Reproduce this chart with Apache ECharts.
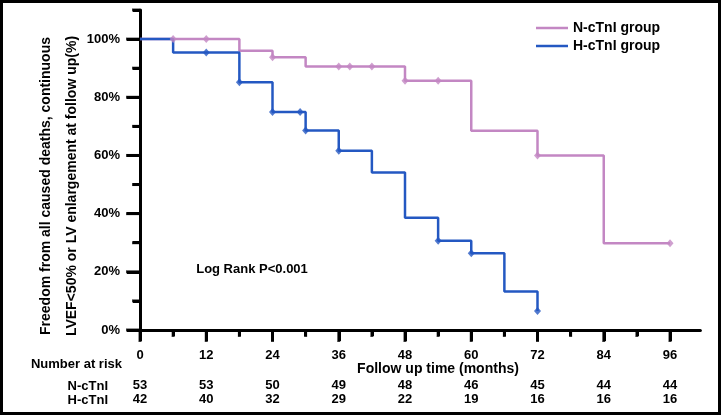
<!DOCTYPE html>
<html>
<head>
<meta charset="utf-8">
<script src="https://cdn.jsdelivr.net/npm/echarts@6/dist/echarts.min.js"></script>
<style>
  html, body { margin: 0; padding: 0; background: #fff; }
  #main { width: 723px; height: 417px; }
</style>
</head>
<body>
<div id="main"></div>
<script>
// survival steps (month, %)
var nSteps = [[0, 100], [18, 96], [24, 93.8], [30, 90.6], [48, 85.7], [60, 68.5], [72, 60.0], [84, 29.8], [96, 29.8]];
var hSteps = [[0, 100], [6, 95.4], [18, 85.2], [24, 74.9], [30, 68.6], [36, 61.6], [42, 54.1], [48, 38.6], [54, 30.7], [60, 26.4], [66, 13.2], [72, 6.5]];
// censor marks
var nCensor = [[6, 100], [12, 100], [24, 93.8], [36, 90.6], [38, 90.6], [42, 90.6], [48, 85.7], [54, 85.7], [72, 60.0], [96, 29.8]];
var hCensor = [[12, 95.4], [18, 85.2], [24, 74.9], [29, 74.9], [30, 68.6], [36, 61.6], [54, 30.7], [60, 26.4], [72, 6.5]];
// x tick labels (months)
var xLabels = [0, 12, 24, 36, 48, 60, 72, 84, 96];
// tick positions
var xMajor = [0, 12, 24, 36, 48, 60, 72, 84, 96];
var xMinor = [6, 18, 30, 42, 54, 66, 78, 90];
var yMajor = [0, 20, 40, 60, 80, 100];
var yMinor = [10, 30, 50, 70, 90, 110];
// number at risk
var nRisk = [53, 53, 50, 49, 48, 46, 45, 44, 44];
var hRisk = [42, 40, 32, 29, 22, 19, 16, 16, 16];

var pink = '#c387c3';
var blue = '#2458c2';
var font = 'Liberation Sans, Arial, sans-serif';

var myChart = echarts.init(document.getElementById('main'));

var pxm = 530 / 96;     // px per month
var pxp = 320 / 110;    // px per percent
var tickLine = { show: true, showMinLine: true, showMaxLine: true, lineStyle: { color: '#000', width: 3 } };
var lbl = { color: '#000', fontFamily: font, fontWeight: 'bold', fontSize: 13 };

function hidden(min, max) {
    return { type: 'value', show: false, min: min, max: max, splitLine: { show: false } };
}
function xTicks(grid, interval, label, margin, fmt) {
    return {
        type: 'value', gridIndex: grid, position: 'bottom', min: 0, max: 96, interval: interval,
        axisLine: { show: false }, axisTick: { show: false },
        axisLabel: Object.assign({ show: label, margin: margin, formatter: fmt }, lbl),
        splitLine: tickLine
    };
}
function riskFmt(arr) {
    return function (v) { return String(arr[xLabels.indexOf(v)]); };
}
// tick marks drawn as small bars on the axes, placed by the plot scales
function tickSeries(data, size, offset) {
    return {
        type: 'scatter', data: data, xAxisIndex: 0, yAxisIndex: 0, symbol: 'rect',
        symbolSize: size, symbolOffset: offset, clip: false, silent: true,
        itemStyle: { color: '#000' }, emphasis: { disabled: true }, z: 4
    };
}

var option = {
    animation: false,
    backgroundColor: '#fff',
    grid: [
        { left: 140, top: 10, width: 101.5 * pxm, height: 320 },                 // 0 plot
        { left: 140, top: 330, width: 530, height: 11 },                         // 1 x major
        { left: 140, top: 330, width: 530, height: 6 },                          // 2 x minor
        { left: 127, top: 10 + 10 * pxp, width: 13, height: 100 * pxp },         // 3 y major
        { left: 133, top: 10, width: 7, height: 320 },                           // 4 y minor
        { left: 140, top: 330, width: 530, height: 10 },                         // 5 risk N
        { left: 140, top: 330, width: 530, height: 10 }                          // 6 risk H
    ],
    legend: {
        data: ['N-cTnI group', 'H-cTnI group'],
        orient: 'vertical', left: 531, top: 16, icon: 'rect',
        itemWidth: 32, itemHeight: 2.5, itemGap: 4,
        textStyle: { color: '#000', fontFamily: font, fontWeight: 'bold', fontSize: 14, lineHeight: 13 }
    },
    xAxis: [
        {
            type: 'value', gridIndex: 0, position: 'bottom', min: 0, max: 101.5,
            axisLine: { show: true, onZero: false, lineStyle: { color: '#000', width: 3 } },
            axisTick: { show: false }, axisLabel: { show: false }, splitLine: { show: false }
        },
        xTicks(1, 12, true, 8),
        xTicks(2, 6, false, 8),
        Object.assign(hidden(0, 1), { gridIndex: 3 }),
        Object.assign(hidden(0, 1), { gridIndex: 4 }),
        {
            type: 'value', gridIndex: 5, position: 'bottom', min: 0, max: 96, interval: 12,
            axisLine: { show: false }, axisTick: { show: false }, splitLine: { show: false },
            axisLabel: Object.assign({ margin: 39, formatter: riskFmt(nRisk) }, lbl)
        },
        {
            type: 'value', gridIndex: 6, position: 'bottom', min: 0, max: 96, interval: 12,
            axisLine: { show: false }, axisTick: { show: false }, splitLine: { show: false },
            axisLabel: Object.assign({ margin: 53, formatter: riskFmt(hRisk) }, lbl)
        }
    ],
    yAxis: [
        {
            type: 'value', gridIndex: 0, position: 'left', min: 0, max: 110,
            axisLine: { show: true, onZero: false, lineStyle: { color: '#000', width: 3 } },
            axisTick: { show: false }, axisLabel: { show: false }, splitLine: { show: false }
        },
        Object.assign(hidden(0, 1), { gridIndex: 1 }),
        Object.assign(hidden(0, 1), { gridIndex: 2 }),
        {
            type: 'value', gridIndex: 3, position: 'left', min: 0, max: 100, interval: 20,
            axisLine: { show: false }, axisTick: { show: false },
            axisLabel: Object.assign({ margin: 7, formatter: '{value}%' }, lbl),
            splitLine: tickLine
        },
        {
            type: 'value', gridIndex: 4, position: 'left', min: 0, max: 110, interval: 10,
            axisLine: { show: false }, axisTick: { show: false }, axisLabel: { show: false },
            splitLine: tickLine
        },
        Object.assign(hidden(0, 1), { gridIndex: 5 }),
        Object.assign(hidden(0, 1), { gridIndex: 6 })
    ],
    graphic: [
        {
            type: 'rect', shape: { x: 1.5, y: 1.5, width: 718, height: 412 },
            style: { fill: null, stroke: '#000', lineWidth: 3 }, z: 100
        },
        {
            type: 'text', x: 59, y: 186, rotation: Math.PI / 2,
            style: {
                text: 'Freedom from all caused deaths, continuous\nLVEF<50% or LV enlargement at follow up(%)',
                font: 'bold 14px ' + font, fill: '#000', align: 'center', verticalAlign: 'middle', lineHeight: 26
            }
        },
        {
            type: 'text', x: 252, y: 269,
            style: { text: 'Log Rank P<0.001', font: 'bold 13px ' + font, fill: '#000', align: 'center', verticalAlign: 'middle' }
        },
        {
            type: 'text', x: 438, y: 369,
            style: { text: 'Follow up time (months)', font: 'bold 14px ' + font, fill: '#000', align: 'center', verticalAlign: 'middle' }
        },
        {
            type: 'text', x: 122, y: 364,
            style: { text: 'Number at risk', font: 'bold 13px ' + font, fill: '#000', align: 'right', verticalAlign: 'middle' }
        },
        {
            type: 'text', x: 108, y: 386,
            style: { text: 'N-cTnI', font: 'bold 13px ' + font, fill: '#000', align: 'right', verticalAlign: 'middle' }
        },
        {
            type: 'text', x: 108, y: 400,
            style: { text: 'H-cTnI', font: 'bold 13px ' + font, fill: '#000', align: 'right', verticalAlign: 'middle' }
        }
    ],
    series: [
        {
            name: 'N-cTnI group', type: 'line', step: 'end', data: nSteps, xAxisIndex: 0, yAxisIndex: 0,
            symbol: 'none', lineStyle: { color: pink, width: 2.5 }, itemStyle: { color: pink }
        },
        {
            name: 'H-cTnI group', type: 'line', step: 'end', data: hSteps, xAxisIndex: 0, yAxisIndex: 0,
            symbol: 'none', lineStyle: { color: blue, width: 2.5 }, itemStyle: { color: blue }
        },
        {
            name: 'N-cens', type: 'scatter', data: nCensor, xAxisIndex: 0, yAxisIndex: 0,
            symbol: 'diamond', symbolSize: [7, 8], itemStyle: { color: pink }, z: 3
        },
        {
            name: 'H-cens', type: 'scatter', data: hCensor, xAxisIndex: 0, yAxisIndex: 0,
            symbol: 'diamond', symbolSize: [7, 8], itemStyle: { color: blue }, z: 3
        },
        tickSeries(xMajor.map(function (v) { return [v, 0]; }), [3, 12], [0, 6]),
        tickSeries(xMinor.map(function (v) { return [v, 0]; }), [3, 7], [0, 3.5]),
        tickSeries(yMajor.map(function (v) { return [0, v]; }), [14, 3], [-7, 0]),
        tickSeries(yMinor.map(function (v) { return [0, v]; }), [8, 3], [-4, 0])
    ]
};

option && myChart.setOption(option);
</script>
</body>
</html>
